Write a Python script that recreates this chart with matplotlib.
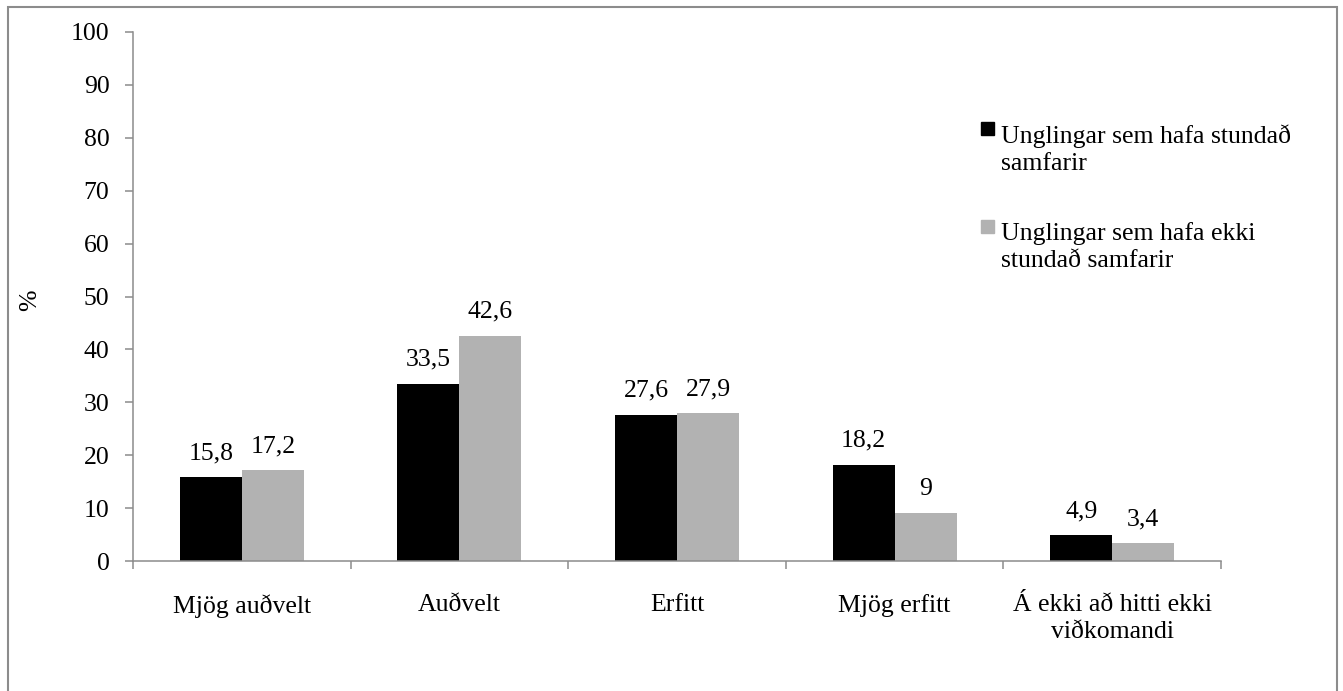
import matplotlib
matplotlib.use('Agg')
import matplotlib.pyplot as plt
from matplotlib.patches import Rectangle
import numpy as np

plt.rcParams['font.family'] = ['Liberation Serif', 'DejaVu Serif']

categories = ['Mjög auðvelt', 'Auðvelt', 'Erfitt', 'Mjög erfitt',
              'Á ekki að hitti ekki\nviðkomandi']
series_names = ['Unglingar sem hafa stundað\nsamfarir',
                'Unglingar sem hafa ekki\nstundað samfarir']
series_colors = ['black', '#b2b2b2']
hafa = [15.8, 33.5, 27.6, 18.2, 4.9]
ekki = [17.2, 42.6, 27.9, 9, 3.4]
yticks = list(range(0, 101, 10))

FS = 18.5
W, H = 1343, 691
fig = plt.figure(figsize=(W / 100, H / 100), dpi=100)
# outer chart border (Excel style)
fig.patches.append(Rectangle((8 / W, -0.01), (1337 - 8) / W, 1 - 7 / H + 0.01,
                             transform=fig.transFigure, fill=False,
                             edgecolor='#8c8c8c', linewidth=1.5))

ax = fig.add_axes([133 / W, 1 - 561 / H, (1221 - 133) / W, (561 - 32) / H])

x = np.arange(len(categories))
w = 0.285
b1 = ax.bar(x - w / 2, hafa, w, color=series_colors[0])
b2 = ax.bar(x + w / 2, ekki, w, color=series_colors[1])


def fmt(v):
    return ('%g' % v).replace('.', ',')


for bars, vals in ((b1, hafa), (b2, ekki)):
    for r, v in zip(bars, vals):
        ax.annotate(fmt(v), (r.get_x() + r.get_width() / 2, v),
                    xytext=(0, 13), textcoords='offset points',
                    ha='center', va='baseline', fontsize=FS)

ax.set_xlim(-0.5, len(categories) - 0.5)
ax.set_ylim(0, 100)
ax.set_yticks(yticks)
ax.tick_params(axis='y', labelsize=FS, length=6, width=1.1, color='#8c8c8c', pad=11)
ax.set_xticks(x)
ax.set_xticklabels(categories, fontsize=FS, linespacing=1.3)
ax.tick_params(axis='x', length=0, pad=24)
ax.set_xticks(np.arange(-0.5, len(categories)), minor=True)
ax.tick_params(axis='x', which='minor', length=6, width=1.1, color='#8c8c8c')

for s in ('top', 'right'):
    ax.spines[s].set_visible(False)
for s in ('left', 'bottom'):
    ax.spines[s].set_color('#8c8c8c')
    ax.spines[s].set_linewidth(1.1)

fig.text(30 / W, 1 - 300 / H, '%', rotation=90, fontsize=FS,
         ha='center', va='center')

# legend drawn by hand so the key square sits on the first text line
for i, (name, col) in enumerate(zip(series_names, series_colors)):
    top = 122 + i * 98
    fig.patches.append(Rectangle((981 / W, 1 - (top + 13) / H), 13 / W, 13 / H,
                                 transform=fig.transFigure, color=col))
    fig.text(1001 / W, 1 - (top + 2) / H, name, fontsize=FS,
             va='top', ha='left', linespacing=1.3)

fig.savefig('out.png', dpi=100)
